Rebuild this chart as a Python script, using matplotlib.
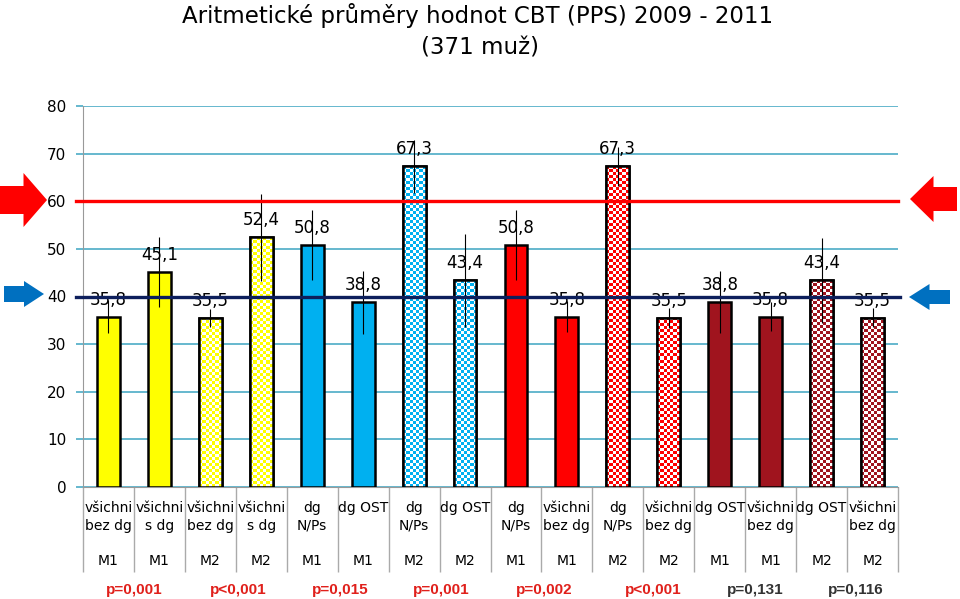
import matplotlib
matplotlib.use("Agg")
import matplotlib.pyplot as plt
import matplotlib.patches as mpatches
import numpy as np

# data
labels = ["všichni\nbez dg", "všichni\ns dg", "všichni\nbez dg", "všichni\ns dg",
          "dg\nN/Ps", "dg OST", "dg\nN/Ps", "dg OST",
          "dg\nN/Ps", "všichni\nbez dg", "dg\nN/Ps", "všichni\nbez dg",
          "dg OST", "všichni\nbez dg", "dg OST", "všichni\nbez dg"]
models = ["M1", "M1", "M2", "M2", "M1", "M1", "M2", "M2",
          "M1", "M1", "M2", "M2", "M1", "M1", "M2", "M2"]
values = [35.8, 45.1, 35.5, 52.4, 50.8, 38.8, 67.3, 43.4,
          50.8, 35.8, 67.3, 35.5, 38.8, 35.8, 43.4, 35.5]
errors = [3.4, 7.3, 1.9, 9.2, 7.4, 6.6, 5.5, 9.8,
          7.3, 3.2, 4.0, 2.1, 6.5, 3.0, 8.9, 2.0]
pvalues = ["p=0,001", "p<0,001", "p=0,015", "p=0,001",
           "p=0,002", "p<0,001", "p=0,131", "p=0,116"]
p_significant = [True, True, True, True, True, True, False, False]
line_red = 60
line_blue = 40

colors = ["#FFFF00", "#FFFF00", "#FFFF00", "#FFFF00",
          "#00B0F0", "#00B0F0", "#00B0F0", "#00B0F0",
          "#FF0000", "#FF0000", "#FF0000", "#FF0000",
          "#A0141E", "#A0141E", "#A0141E", "#A0141E"]
checkered = [False, False, True, True, False, False, True, True,
             False, False, True, True, False, False, True, True]

fig = plt.figure(figsize=(9.6, 5.99), dpi=100)
ax = fig.add_axes([83 / 960, 1 - 487 / 599, 815 / 960, 381 / 599])

x = np.arange(len(values))
bars = ax.bar(x, values, width=0.45, color=colors, edgecolor="black",
              linewidth=1.8, zorder=3)

# checkerboard fill for the M2 bars
for b, col, chk in zip(bars, colors, checkered):
    if not chk:
        continue
    b.set_facecolor("white")
    x0, w, h = b.get_x(), b.get_width(), b.get_height()
    nx = 7
    ny = max(1, int(round(h * 4.76 / 3.0)))
    rgb = np.array(matplotlib.colors.to_rgb(col))
    img = np.ones((ny, nx, 3))
    ii, jj = np.indices((ny, nx))
    img[(ii + jj) % 2 == 0] = rgb
    im = ax.imshow(img, extent=(x0, x0 + w, 0, h), origin="lower",
                   interpolation="nearest", aspect="auto", zorder=3.1)
    im.set_clip_path(b)
    edge = mpatches.Rectangle((x0, 0), w, h, fill=False, edgecolor="black",
                              linewidth=1.8, zorder=3.2)
    ax.add_patch(edge)

ax.errorbar(x, values, yerr=errors, fmt="none", ecolor="black",
            elinewidth=0.8, capsize=0, zorder=4)

for xi, v in zip(x, values):
    ax.annotate(("%.1f" % v).replace(".", ","), (xi, v), xytext=(0, 17),
                textcoords="offset pixels", ha="center", va="center",
                fontsize=12, color="black", zorder=5)

trans = ax.get_yaxis_transform()
ax.plot([-0.008, 1.0], [line_red, line_red], color="#FF0000", lw=2.4,
        transform=trans, clip_on=False, zorder=6)
ax.plot([-0.008, 1.003], [line_blue, line_blue], color="#0D1F5C", lw=2.4,
        transform=trans, clip_on=False, zorder=6)

ax.set_xlim(-0.5, len(values) - 0.5)
ax.set_ylim(0, 80)
ax.set_yticks(range(0, 81, 10))
ax.yaxis.grid(True, color="#4BACC6", lw=1.2)
ax.set_axisbelow(True)
ax.tick_params(axis="y", length=5, color="#4BACC6", width=1.2,
               labelsize=11, pad=7)
ax.set_xticks([])
for s in ["top", "right"]:
    ax.spines[s].set_visible(False)
ax.spines["left"].set_color("#999999")
ax.spines["bottom"].set_color("#999999")
ax.spines["bottom"].set_zorder(2)

# category table under the axis
xt = ax.get_xaxis_transform()
ax.vlines(np.arange(len(values) + 1) - 0.5, 0, -85 / 381, color="#AAAAAA",
          lw=1, transform=xt, clip_on=False)
for xi, lab, m in zip(x, labels, models):
    ax.text(xi, -14 / 381, lab, transform=xt, ha="center", va="top",
            fontsize=10, linespacing=1.35)
    ax.text(xi, -74 / 381, m, transform=xt, ha="center", va="center",
            fontsize=10)
p_offsets = [0, 0.05, 0.05, 0.04, 0.06, 0.2, 0.2, 0.18]
for k, (p, sig) in enumerate(zip(pvalues, p_significant)):
    ax.text(2 * k + 0.5 + p_offsets[k], -103 / 381, p, transform=xt,
            ha="center", va="center", fontsize=11, fontweight="bold",
            family="Liberation Sans", color="#E0201B" if sig else "#333333")

fig.text(0.497, 1 - 15 / 599, "Aritmetické průměry hodnot CBT (PPS) 2009 - 2011",
         ha="center", va="center", fontsize=16.5)
fig.text(0.5, 1 - 48 / 599, "(371 muž)", ha="center", va="center",
         fontsize=16.5)

# block arrows at the 60 and 40 lines
ov = fig.add_axes([0, 0, 1, 1], zorder=10)
ov.set_xlim(0, 960)
ov.set_ylim(599, 0)
ov.axis("off")
ov.patch.set_alpha(0)


def block_arrow(tail, tip, cy, body, head, color):
    d = 1 if tip > tail else -1
    neck = tip - d * abs(tip - tail) * 0.5
    pts = [(tail, cy - body), (neck, cy - body), (neck, cy - head), (tip, cy),
           (neck, cy + head), (neck, cy + body), (tail, cy + body)]
    ov.add_patch(mpatches.Polygon(pts, closed=True, color=color, lw=0))


block_arrow(0, 47, 200, 14, 27, "#FF0000")
block_arrow(957, 910, 199, 12, 23, "#FF0000")
block_arrow(4, 44, 294, 8, 13, "#0070C0")
block_arrow(950, 909, 297, 7, 13, "#0070C0")

plt.savefig("out.png", dpi=100)
